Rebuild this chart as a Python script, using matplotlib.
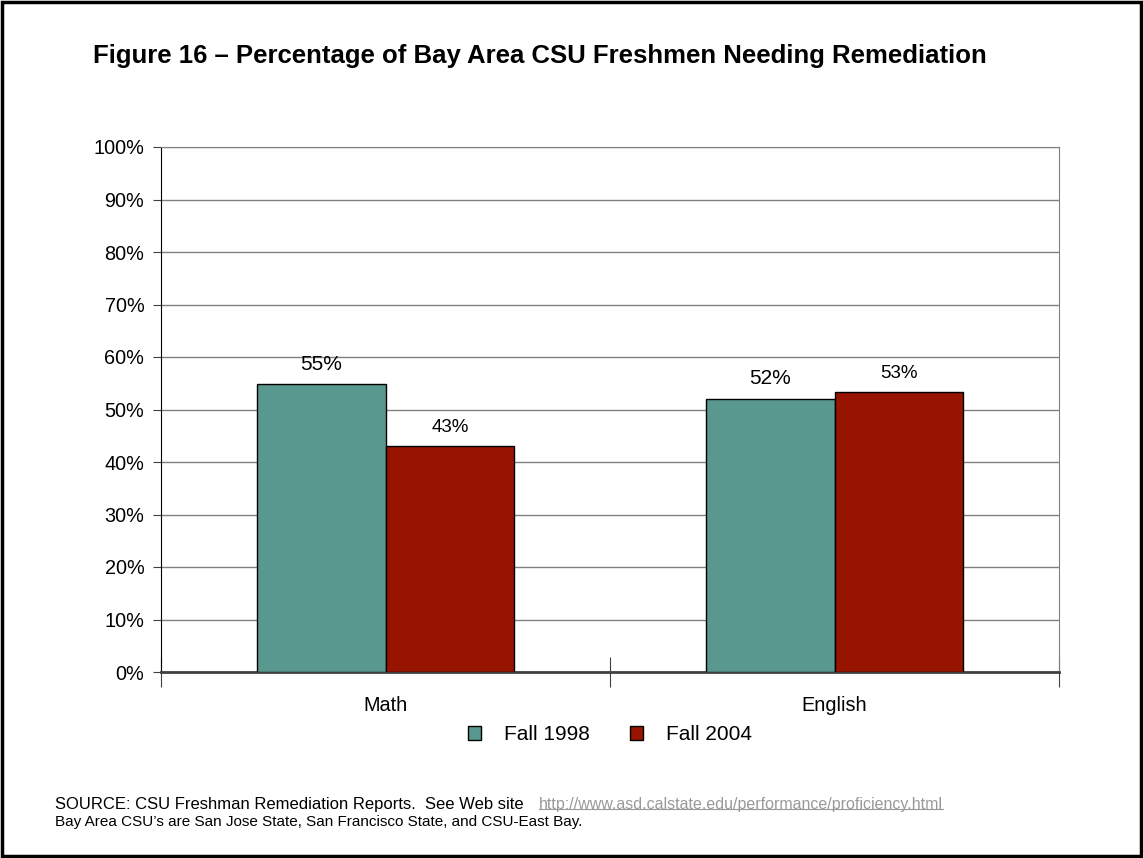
import numpy as np
import matplotlib.pyplot as plt
from matplotlib.patches import Rectangle
from matplotlib.lines import Line2D

plt.rcParams['font.family'] = ['Liberation Sans', 'DejaVu Sans']

# datos
categorias = ['Math', 'English']
series = ['Fall 1998', 'Fall 2004']
valores_1998 = [54.8, 52.0]
valores_2004 = [43.0, 53.3]
etiquetas_1998 = ['55%', '52%']
etiquetas_2004 = ['43%', '53%']

color_1998 = '#58988E'
color_2004 = '#961400'

fig = plt.figure(figsize=(11.43, 8.58), dpi=100)

# marco de la hoja
fig.patches.append(Rectangle((0.002, 0.002), 0.996, 0.996, transform=fig.transFigure,
                             fill=False, edgecolor='black', linewidth=2.5))

# area del grafico (pixeles: x 161-1059, y 147-672)
ax = fig.add_axes([161 / 1143, 1 - 672 / 858, 898 / 1143, 525 / 858])

x = np.arange(len(categorias))
ancho = 0.287
ax.bar(x - ancho / 2, valores_1998, ancho, color=color_1998, edgecolor='black', linewidth=1, zorder=3)
ax.bar(x + ancho / 2, valores_2004, ancho, color=color_2004, edgecolor='black', linewidth=1, zorder=3)

for i in range(len(categorias)):
    ax.text(x[i] - ancho / 2, valores_1998[i] + 2.0, etiquetas_1998[i], ha='center', va='bottom',
            fontsize=15)
    ax.text(x[i] + ancho / 2, valores_2004[i] + 2.0, etiquetas_2004[i], ha='center', va='bottom',
            fontsize=13.5)

ax.set_xlim(-0.5, 1.5)
ax.set_ylim(0, 100)
ax.set_yticks(np.arange(0, 101, 10))
ax.set_yticklabels([f'{v}%' for v in range(0, 101, 10)], fontsize=14.3)
ax.yaxis.grid(True, color='#808080', linewidth=1, zorder=0)
ax.set_axisbelow(True)

ax.set_xticks([-0.5, 0.5, 1.5])
ax.set_xticklabels([])
ax.set_xticks(x, minor=True)
ax.set_xticklabels(categorias, minor=True, fontsize=14.3)
ax.tick_params(axis='x', which='major', direction='inout', length=22, color='#404040')
ax.tick_params(axis='x', which='minor', length=0, pad=17)
ax.tick_params(axis='y', direction='out', length=6, color='#404040', pad=6)

for lado in ['top', 'right']:
    ax.spines[lado].set_color('#808080')
ax.spines['left'].set_color('black')
ax.spines['bottom'].set_color('#404040')
ax.spines['bottom'].set_linewidth(2)

# leyenda
ax.legend(series, loc='upper center', bbox_to_anchor=(0.5, -0.066), ncol=2, frameon=False,
          fontsize=15, handlelength=0.65, handleheight=0.65, columnspacing=1.9, handletextpad=1.1)

fig.text(93 / 1143, 1 - 56 / 858, 'Figure 16 \u2013 Percentage of Bay Area CSU Freshmen Needing Remediation',
         fontsize=18.5, fontweight='bold', va='center', ha='left')

fig.text(55 / 1143, 1 - 804 / 858, 'SOURCE: CSU Freshman Remediation Reports.  See Web site',
         fontsize=12, va='center', ha='left')
url = fig.text(539 / 1143, 1 - 804 / 858, 'http://www.asd.calstate.edu/performance/proficiency.html',
               fontsize=11.5, va='center', ha='left', color='#999999')
fig.text(55 / 1143, 1 - 822 / 858, 'Bay Area CSU\u2019s are San Jose State, San Francisco State, and CSU-East Bay.',
         fontsize=11, va='center', ha='left')

# subrayado del enlace
fig.canvas.draw()
bb = url.get_window_extent().transformed(fig.transFigure.inverted())
fig.add_artist(Line2D([bb.x0, bb.x1], [bb.y0 + 0.003, bb.y0 + 0.003], transform=fig.transFigure,
                      color='#999999', linewidth=0.8))

fig.savefig('out.png', dpi=100)
